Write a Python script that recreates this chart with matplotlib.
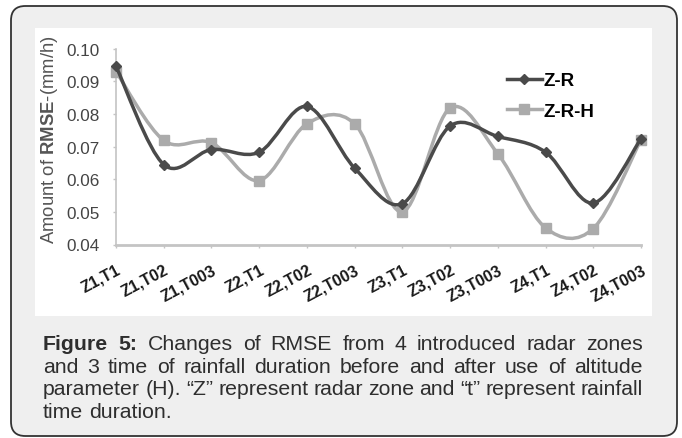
import numpy as np
import matplotlib
matplotlib.use("Agg")
import matplotlib.pyplot as plt
from matplotlib.path import Path
from matplotlib.patches import PathPatch, FancyBboxPatch, Rectangle
from matplotlib.lines import Line2D

plt.rcParams['font.family'] = ['Liberation Sans', 'DejaVu Sans']
plt.rcParams['mathtext.fontset'] = 'custom'
plt.rcParams['mathtext.rm'] = 'Liberation Sans'
plt.rcParams['mathtext.bf'] = 'Liberation Sans:bold'

categories = ['Z1,T1', 'Z1,T02', 'Z1,T003', 'Z2,T1', 'Z2,T02', 'Z2,T003',
              'Z3,T1', 'Z3,T02', 'Z3,T003', 'Z4,T1', 'Z4,T02', 'Z4,T003']
z_r = [0.0946, 0.0645, 0.0691, 0.0683, 0.0823, 0.0634,
       0.0525, 0.0763, 0.0731, 0.0683, 0.0527, 0.0724]
z_r_h = [0.0930, 0.0719, 0.0712, 0.0596, 0.0770, 0.0770,
         0.0500, 0.0818, 0.0678, 0.0451, 0.0449, 0.0721]
yticks = [0.04, 0.05, 0.06, 0.07, 0.08, 0.09, 0.10]

caption = [
    [("Figure", True), ("5:", True), ("Changes", False), ("of", False), ("RMSE", False),
     ("from", False), ("4", False), ("introduced", False), ("radar", False), ("zones", False)],
    [(w, False) for w in "and 3 time of rainfall duration before and after use of altitude".split()],
    [(w, False) for w in "parameter (H). \u201cZ\u201d represent radar zone and \u201ct\u201d represent rainfall".split()],
    [(w, False) for w in "time duration.".split()],
]

W, H = 682, 439
fig = plt.figure(figsize=(W / 100, H / 100), dpi=100)
fig.patch.set_facecolor('white')


def px(x, y):
    # pixel (from top-left) -> figure fraction
    return x / W, (H - y) / H


# outer rounded box and white chart panel
x0, y0 = px(11, 437)
box = FancyBboxPatch((x0, y0), 666 / W, 430 / H,
                     boxstyle="round,pad=0,rounding_size=0.021",
                     transform=fig.transFigure, facecolor='#efefef',
                     edgecolor='#333333', linewidth=1.3, mutation_aspect=W / H,
                     zorder=-2)
fig.patches.append(box)
px0, py0 = px(35, 317)
fig.patches.append(Rectangle((px0, py0), 617 / W, 288 / H, transform=fig.transFigure,
                             facecolor='white', edgecolor='none', zorder=-1))

l, b = px(116, 245.5)
r, t = px(641, 49.7)
ax = fig.add_axes([l, b, r - l, t - b])
ax.set_facecolor('none')
ax.set_zorder(1)

xs = np.arange(len(categories))


def smooth_path(x, y):
    # Catmull-Rom style bezier, like the spreadsheet "smoothed line"
    pts = np.column_stack([x, y])
    n = len(pts)
    verts = [pts[0]]
    codes = [Path.MOVETO]
    for i in range(n - 1):
        p0 = pts[max(i - 1, 0)]
        p1 = pts[i]
        p2 = pts[i + 1]
        p3 = pts[min(i + 2, n - 1)]
        c1 = p1 + (p2 - p0) / 6
        c2 = p2 - (p3 - p1) / 6
        verts += [c1, c2, p2]
        codes += [Path.CURVE4] * 3
    return Path(verts, codes)


c_h = '#ababab'
c_r = '#4a4a4a'
ax.add_patch(PathPatch(smooth_path(xs, z_r_h), facecolor='none', edgecolor=c_h,
                       lw=2.5, clip_on=False, zorder=2))
ax.plot(xs, z_r_h, ls='none', marker='s', ms=7, color=c_h, clip_on=False, zorder=3)
ax.add_patch(PathPatch(smooth_path(xs, z_r), facecolor='none', edgecolor=c_r,
                       lw=2.5, clip_on=False, zorder=4))
ax.plot(xs, z_r, ls='none', marker='D', ms=5.5, color=c_r, clip_on=False, zorder=5)

ax.set_xlim(0, len(categories) - 1)
ax.set_ylim(0.04, 0.10)
ax.set_yticks(yticks)
ax.set_yticklabels(['%.2f' % v for v in yticks])
ax.set_xticks(xs)
ax.set_xticklabels(categories, rotation=28, ha='right', va='top',
                   rotation_mode='anchor', fontweight='bold', fontsize=11.5)
for s in ['top', 'right']:
    ax.spines[s].set_visible(False)
for s in ['left', 'bottom']:
    ax.spines[s].set_color('#c4c4c4')
ax.spines['left'].set_linewidth(1.2)
ax.spines['bottom'].set_linewidth(2.0)
ax.tick_params(axis='y', length=2.5, width=1, color='#c4c4c4', pad=9,
               labelsize=12.3, labelcolor='#444444')
ax.tick_params(axis='x', length=2.5, width=1, color='#c4c4c4', pad=10,
               labelcolor='#1a1a1a')

lx, ly = px(50, 140)
fig.text(lx, ly, r'Amount of $\mathbf{RMSE}$-(mm/h)', rotation=90, ha='center',
         va='center', fontsize=13.3, color='#555555')

handles = [Line2D([], [], color=c_r, lw=2.5, marker='D', ms=5.5),
           Line2D([], [], color=c_h, lw=2.5, marker='s', ms=7)]
lgx, lgy = px(507, 73)
fig.legend(handles, ['Z-R', 'Z-R-H'], loc='upper left', bbox_to_anchor=(lgx, lgy),
           frameon=False, prop={'weight': 'bold', 'size': 13.5}, handlelength=1.85,
           handletextpad=0.1, labelspacing=0.72, borderpad=0, borderaxespad=0)

# justified caption
renderer = fig.canvas.get_renderer()
cap_left, cap_right = 43, 643
base_y = 350.5
cap_size = 15.3
for k, line in enumerate(caption):
    yy = px(0, base_y + k * 22.5)[1]
    texts = []
    for word, bold in line:
        tx = fig.text(0, yy, word, fontsize=cap_size, color='#2e2e2e',
                      fontweight='bold' if bold else 'normal', va='baseline', ha='left')
        texts.append(tx)
    widths = [tx.get_window_extent(renderer).width for tx in texts]
    if k < len(caption) - 1:
        gap = (cap_right - cap_left - sum(widths)) / (len(texts) - 1)
    else:
        gap = cap_size * 0.278 * 100 / 72
    xpos = cap_left
    for tx, wd in zip(texts, widths):
        tx.set_x(xpos / W)
        xpos += wd + gap

fig.savefig('out.png', dpi=100)
